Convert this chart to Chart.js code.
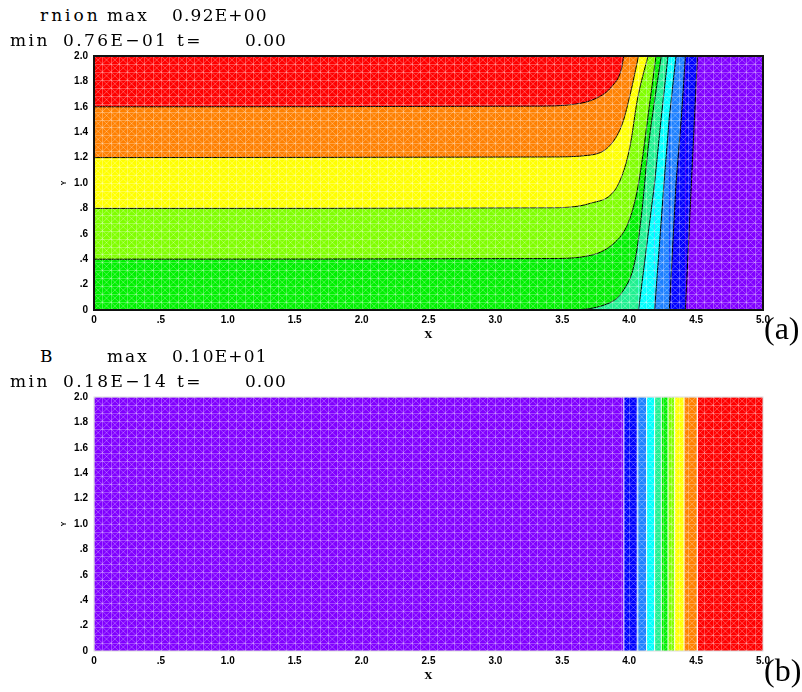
<!DOCTYPE html>
<html>
<head>
<meta charset="utf-8">
<script src="https://cdn.jsdelivr.net/npm/chart.js@4.4.1/dist/chart.umd.min.js"></script>
<style>
  body { margin: 0; background: #fff; width: 802px; height: 692px; position: relative; overflow: hidden; }
  canvas { position: absolute; left: 0; }
  .hdr { position: absolute; font-family: "DejaVu Serif", serif; font-size: 17px; line-height: 17px; white-space: pre; color: #000; }
  .tag { position: absolute; font-family: "Liberation Serif", serif; font-size: 32px; line-height: 32px; color: #000; }
</style>
</head>
<body>
<canvas id="rnionChart" width="802" height="305" style="top:40px"></canvas>
<canvas id="bChart" width="802" height="305" style="top:381px"></canvas>

<span class="hdr" style="left:40px;top:7px;letter-spacing:3px">rnion</span>
<span class="hdr" style="left:107px;top:7px;letter-spacing:2px">max</span>
<span class="hdr" style="left:172px;top:7px;letter-spacing:1.2px">0.92E+00</span>
<span class="hdr" style="left:10px;top:32px;letter-spacing:2.5px">min</span>
<span class="hdr" style="left:63px;top:32px;letter-spacing:2.4px">0.76E−01</span>
<span class="hdr" style="left:177px;top:32px;letter-spacing:2.5px">t=</span>
<span class="hdr" style="left:245px;top:32px;letter-spacing:1px">0.00</span>
<span class="tag" style="left:764px;top:312px">(a)</span>

<span class="hdr" style="left:40px;top:348px">B</span>
<span class="hdr" style="left:107px;top:348px;letter-spacing:2px">max</span>
<span class="hdr" style="left:172px;top:348px;letter-spacing:1.2px">0.10E+01</span>
<span class="hdr" style="left:10px;top:373px;letter-spacing:2.5px">min</span>
<span class="hdr" style="left:63px;top:373px;letter-spacing:2.4px">0.18E−14</span>
<span class="hdr" style="left:177px;top:373px;letter-spacing:2.5px">t=</span>
<span class="hdr" style="left:245px;top:373px;letter-spacing:1px">0.00</span>
<span class="tag" style="left:764px;top:654px">(b)</span>

<script>
// axis ticks
const xTicks = [0, 0.5, 1.0, 1.5, 2.0, 2.5, 3.0, 3.5, 4.0, 4.5, 5.0];
const xTickLabels = ["0", ".5", "1.0", "1.5", "2.0", "2.5", "3.0", "3.5", "4.0", "4.5", "5.0"];
const yTicks = [0, 0.2, 0.4, 0.6, 0.8, 1.0, 1.2, 1.4, 1.6, 1.8, 2.0];
const yTickLabels = ["0", ".2", ".4", ".6", ".8", "1.0", "1.2", "1.4", "1.6", "1.8", "2.0"];

// rnion contour lines, lowest level first: [x, y]
const rnionLevel1 = [[0, 0], [4.42, 0], [4.465, 1.0], [4.51, 2.0]];
const rnionLevel2 = [[0, 0], [4.30, 0], [4.35, 1.0], [4.39, 1.52], [4.42, 2.0]];
const rnionLevel3 = [[0, 0], [4.19, 0], [4.26, 1.0], [4.30, 1.52], [4.35, 2.0]];
const rnionLevel4 = [[0, 0], [4.07, 0], [4.19, 1.0], [4.24, 1.52], [4.29, 2.0]];
const rnionLevel5 = [[0, 0], [3.50, 0], [3.84, 0.05], [3.96, 0.16], [4.04, 0.37], [4.09, 0.73], [4.14, 1.26], [4.19, 1.65], [4.24, 2.0]];
const rnionLevel6 = [[0, 0.4], [3.40, 0.405], [3.71, 0.43], [3.91, 0.55], [3.99, 0.68], [4.05, 0.89], [4.09, 1.13], [4.14, 1.52], [4.20, 2.0]];
const rnionLevel7 = [[0, 0.8], [3.40, 0.805], [3.71, 0.84], [3.89, 0.94], [3.96, 1.10], [4.01, 1.31], [4.06, 1.65], [4.14, 2.0]];
const rnionLevel8 = [[0, 1.2], [3.40, 1.205], [3.71, 1.22], [3.86, 1.30], [3.95, 1.47], [4.01, 1.71], [4.07, 2.0]];
const rnionLevel9 = [[0, 1.6], [3.30, 1.605], [3.59, 1.62], [3.76, 1.67], [3.87, 1.76], [3.94, 1.89], [3.96, 2.0]];
const rnionLevels = [rnionLevel1, rnionLevel2, rnionLevel3, rnionLevel4, rnionLevel5,
                     rnionLevel6, rnionLevel7, rnionLevel8, rnionLevel9];

// B band edges (x), left to right
const bEdges = [3.96, 4.06, 4.13, 4.19, 4.24, 4.29, 4.34, 4.41, 4.51];

// colour scale, low to high
const palette = ["#8000ff", "#0000ff", "#1e80ff", "#00ffff", "#20f090",
                 "#00f000", "#80ff00", "#ffff00", "#ff8000", "#ff0000"];

const meshStep = 0.0625;

const meshPlugin = {
  id: "mesh",
  afterDatasetsDraw(chart) {
    const { ctx, chartArea: a, scales: { x, y } } = chart;
    ctx.save();
    ctx.beginPath();
    ctx.rect(a.left, a.top, a.right - a.left, a.bottom - a.top);
    ctx.clip();
    ctx.strokeStyle = "rgba(255,255,255,0.28)";
    ctx.lineWidth = 1;
    ctx.beginPath();
    const nx = Math.round(x.max / meshStep), ny = Math.round(y.max / meshStep);
    for (let i = 0; i < nx; i++) {
      for (let j = 0; j < ny; j++) {
        const x0 = x.getPixelForValue(i * meshStep), x1 = x.getPixelForValue((i + 1) * meshStep);
        const y0 = y.getPixelForValue(j * meshStep), y1 = y.getPixelForValue((j + 1) * meshStep);
        ctx.moveTo(x0, y0); ctx.lineTo(x1, y1);
        ctx.moveTo(x0, y1); ctx.lineTo(x1, y0);
      }
    }
    for (let i = 0; i <= nx; i++) {
      const px = Math.round(x.getPixelForValue(i * meshStep)) + 0.5;
      ctx.moveTo(px, a.top); ctx.lineTo(px, a.bottom);
    }
    for (let j = 0; j <= ny; j++) {
      const py = Math.round(y.getPixelForValue(j * meshStep)) + 0.5;
      ctx.moveTo(a.left, py); ctx.lineTo(a.right, py);
    }
    ctx.stroke();
    ctx.restore();
  }
};

const framePlugin = {
  id: "frame",
  afterDraw(chart, args, opts) {
    const { ctx, chartArea: a } = chart;
    ctx.save();
    ctx.strokeStyle = opts.color;
    ctx.lineWidth = opts.width;
    ctx.strokeRect(a.left, a.top, a.right - a.left, a.bottom - a.top);
    ctx.restore();
  }
};

// hide strokes running along the bottom edge
const hideBottom = (ctx) =>
  ctx.p0.parsed.y <= 0 && ctx.p1.parsed.y <= 0 ? "rgba(0,0,0,0)" : undefined;

function baseOptions(frameColor, frameWidth) {
  return {
    responsive: false,
    animation: false,
    devicePixelRatio: 1,
    layout: { padding: { left: 56, right: 39, top: 16, bottom: 0 } },
    plugins: {
      legend: { display: false },
      tooltip: { enabled: false },
      frame: { color: frameColor, width: frameWidth }
    },
    scales: {
      x: {
        type: "linear", min: 0, max: 5,
        afterFit: (s) => { s.height = 35; },
        afterBuildTicks: (s) => { s.ticks = xTicks.map((v) => ({ value: v })); },
        ticks: {
          callback: (v, i) => xTickLabels[i],
          font: { family: "Liberation Sans", weight: "bold", size: 10 },
          color: "#000", padding: 4, maxRotation: 0, autoSkip: false
        },
        grid: { display: false, drawTicks: false },
        border: { display: false },
        title: { display: true, text: "X", color: "#000",
                 font: { family: "DejaVu Serif", size: 10, weight: "bold" }, padding: { top: 2, bottom: 4 } }
      },
      y: {
        type: "linear", min: 0, max: 2,
        afterFit: (s) => { s.width = 38; },
        afterBuildTicks: (s) => { s.ticks = yTicks.map((v) => ({ value: v })); },
        ticks: {
          callback: (v, i) => yTickLabels[i],
          font: { family: "Liberation Sans", weight: "bold", size: 10 },
          color: "#000", padding: 6, autoSkip: false
        },
        grid: { display: false, drawTicks: false },
        border: { display: false },
        title: { display: true, text: "Y", color: "#000",
                 font: { family: "Liberation Sans", size: 7, weight: "bold" }, padding: { top: 4, bottom: 0 } }
      }
    }
  };
}

// rnion: filled contours, each level fills up-left of its line
const rnionSets = [{
  data: [{ x: 0, y: 0 }, { x: 5, y: 0 }],
  fill: "end", backgroundColor: palette[0], borderWidth: 0, pointRadius: 0, order: 20
}];
rnionLevels.forEach((pts, k) => {
  const curved = pts[0][1] > 0 || pts.length > 6;
  rnionSets.push({
    data: pts.map(([x, y]) => ({ x, y })),
    fill: "end",
    backgroundColor: palette[k + 1],
    borderColor: "#000",
    borderWidth: 1,
    pointRadius: 0,
    tension: 0,
    cubicInterpolationMode: curved ? "monotone" : "default",
    segment: { borderColor: hideBottom },
    order: 10 - k
  });
});

new Chart(document.getElementById("rnionChart"), {
  type: "scatter",
  data: { datasets: rnionSets.map((d) => ({ ...d, showLine: true })) },
  options: baseOptions("#111", 2),
  plugins: [meshPlugin, framePlugin]
});

// B: vertical bands, background is the top level
const bSets = [{
  data: [{ x: 0, y: 0 }, { x: 5, y: 0 }],
  fill: "end", backgroundColor: palette[9], borderWidth: 0, pointRadius: 0, order: 20
}];
bEdges.forEach((xe, k) => {
  bSets.push({
    data: [{ x: 0, y: 0 }, { x: xe, y: 0 }, { x: xe, y: 2 }],
    fill: "end",
    backgroundColor: palette[k],
    borderColor: "#fff",
    borderWidth: 1,
    pointRadius: 0,
    tension: 0,
    segment: { borderColor: hideBottom },
    order: k + 1
  });
});

new Chart(document.getElementById("bChart"), {
  type: "scatter",
  data: { datasets: bSets.map((d) => ({ ...d, showLine: true })) },
  options: baseOptions("#dcdcdc", 1),
  plugins: [meshPlugin, framePlugin]
});
</script>
</body>
</html>
